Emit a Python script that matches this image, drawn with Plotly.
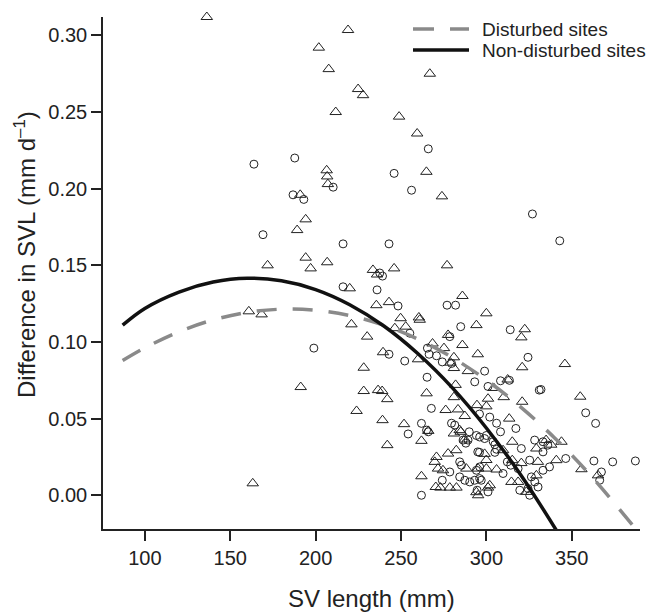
import plotly.graph_objects as go

# ---- data ----
tri_x = [136.3, 201.9, 207.7, 206.5, 206.8, 207.2, 189.2, 194.2, 191.0, 171.9,
         194.2, 197.1, 206.8, 160.9, 168.4, 191.3, 163.2, 259.5, 233.6, 236.0,
         246.0, 220.0, 235.6, 243.0, 221.0, 230.2, 246.4, 239.5, 228.2, 228.2,
         236.6, 239.0, 242.0, 224.0, 239.2, 242.0, 219.0, 266.9, 224.9, 227.8,
         211.8, 248.9, 264.9, 274.0, 277.0, 286.0, 300.0, 249.8, 260.5, 261.0,
         252.8, 294.2, 322.5, 320.5, 277.6, 268.5, 286.0, 275.2, 281.0, 279.0,
         281.0, 295.0, 260.0, 321.0, 289.2, 312.5, 282.0, 304.3, 265.0, 281.0,
         301.0, 294.5, 300.0, 310.2, 321.0, 276.2, 283.4, 251.8, 262.0, 313.4,
         287.4, 284.4, 281.0, 285.0, 287.4, 266.0, 315.2, 329.3, 341.0, 309.8,
         315.2, 320.5, 330.2, 329.3, 323.4, 314.7, 318.6, 306.0, 300.0, 270.8,
         269.8, 277.6, 271.7, 274.6, 288.3, 295.2, 262.0, 270.4, 273.1, 278.6,
         282.5, 295.2, 294.2, 301.0, 302.0, 282.4, 299.0, 300.0, 346.0, 355.0,
         344.0, 355.7, 365.4, 335.0, 338.0]
tri_y = [0.312, 0.292, 0.278, 0.212, 0.208, 0.203, 0.173, 0.180, 0.196, 0.150,
         0.155, 0.148, 0.152, 0.120, 0.118, 0.0706, 0.0078, 0.236, 0.147, 0.144,
         0.148, 0.135, 0.124, 0.126, 0.1115, 0.1035, 0.109, 0.0933, 0.0832, 0.068,
         0.0686, 0.068, 0.0627, 0.055, 0.049, 0.0327, 0.3035, 0.275, 0.265, 0.261,
         0.250, 0.247, 0.211, 0.195, 0.150, 0.130, 0.1187, 0.1155, 0.116, 0.1145,
         0.110, 0.111, 0.1083, 0.103, 0.1046, 0.099, 0.098, 0.096, 0.090, 0.0865,
         0.083, 0.092, 0.0887, 0.0835, 0.081, 0.0755, 0.072, 0.070, 0.0665, 0.064,
         0.063, 0.0588, 0.058, 0.064, 0.061, 0.0556, 0.056, 0.0464, 0.0355, 0.050,
         0.0517, 0.0425, 0.0403, 0.0414, 0.0364, 0.042, 0.0349, 0.0305, 0.0229, 0.0294,
         0.0229, 0.021, 0.0218, 0.013, 0.0022, 0.0087, 0.0087, 0.0168, 0.0174, 0.025,
         0.0218, 0.0272, 0.0174, 0.0163, 0.0174, 0.0174, 0.0124, 0.0054, 0.005, 0.005,
         0.005, 0.0, 0.002, 0.005, 0.0065, 0.0294, 0.027, 0.023, 0.0856, 0.0643,
         0.0349, 0.017, 0.013, 0.036, 0.033]

circ_x = [210.3, 186.8, 193.1, 187.8, 163.9, 169.2, 199.0, 246.0, 256.2, 216.1,
          243.0, 237.6, 239.2, 216.1, 236.0, 248.3, 243.0, 266.0, 327.0, 343.0,
          277.0, 282.0, 255.2, 285.0, 314.0, 278.6, 265.5, 266.5, 270.8, 274.2,
          279.6, 324.4, 252.2, 299.0, 265.3, 293.2, 308.3, 313.5, 301.0, 331.0,
          332.0, 267.8, 262.0, 265.0, 266.0, 254.2, 296.0, 302.0, 306.0, 308.3,
          317.3, 281.5, 279.6, 290.0, 294.2, 296.1, 299.0, 300.0, 286.4, 289.3,
          288.0, 328.3, 333.2, 336.0, 333.2, 320.5, 306.0, 305.0, 295.0, 296.0,
          325.4, 312.3, 314.3, 318.6, 333.2, 337.0, 326.4, 328.4, 330.3, 325.4,
          319.6, 309.8, 296.1, 294.2, 284.4, 285.4, 278.6, 284.4, 287.4, 290.3,
          293.2, 296.1, 274.2, 262.0, 294.6, 301.0, 297.0, 324.4, 346.5, 363.0,
          374.0, 387.3, 367.4, 366.4, 358.2, 364.0, 305.0, 304.0]
circ_y = [0.201, 0.196, 0.193, 0.220, 0.216, 0.170, 0.096, 0.210, 0.199, 0.164,
          0.164, 0.145, 0.143, 0.136, 0.134, 0.1235, 0.092, 0.226, 0.1835, 0.166,
          0.124, 0.124, 0.1057, 0.110, 0.108, 0.1035, 0.096, 0.092, 0.091, 0.087,
          0.086, 0.090, 0.0876, 0.081, 0.077, 0.074, 0.0747, 0.075, 0.071, 0.0686,
          0.069, 0.0567, 0.0469, 0.0425, 0.0414, 0.040, 0.053, 0.051, 0.047, 0.0414,
          0.0436, 0.0458, 0.047, 0.0414, 0.039, 0.038, 0.037, 0.039, 0.036, 0.036,
          0.034, 0.036, 0.0349, 0.0327, 0.0283, 0.0305, 0.030, 0.028, 0.0283, 0.028,
          0.0229, 0.0218, 0.0196, 0.0174, 0.0163, 0.0185, 0.012, 0.0087, 0.0054, 0.0,
          0.0033, 0.0142, 0.0185, 0.0163, 0.0218, 0.0196, 0.0152, 0.012, 0.0098, 0.0087,
          0.0098, 0.0109, 0.0098, 0.0, 0.0033, 0.0022, 0.0098, 0.0044, 0.024, 0.0224,
          0.0218, 0.0224, 0.0152, 0.0098, 0.0538, 0.0469, 0.033, 0.035]

# fitted curves
nd_x = [87, 100, 120, 140, 160, 180, 200, 220, 240, 260, 280, 300, 320, 341]
nd_y = [0.111, 0.1219, 0.1326, 0.1391, 0.1416, 0.1399, 0.1342, 0.1243, 0.1104,
        0.0923, 0.0702, 0.0439, 0.0136, -0.0228]
d_x = [87, 100, 120, 140, 160, 180, 200, 220, 240, 260, 280, 300, 320, 340, 360, 388]
d_y = [0.0879, 0.0962, 0.1067, 0.1144, 0.1193, 0.1214, 0.1207, 0.1172, 0.1109,
       0.1018, 0.0899, 0.0752, 0.0577, 0.0374, 0.0143, -0.0227]

x_ticks = [100, 150, 200, 250, 300, 350]
y_ticks = [0.00, 0.05, 0.10, 0.15, 0.20, 0.25, 0.30]
legend_labels = ["Disturbed sites", "Non-disturbed sites"]

FONT = "Liberation Sans, Arial, Helvetica, sans-serif"
INK = "#222222"
GREY = "#8a8a8a"

fig = go.Figure()
fig.add_trace(go.Scatter(x=tri_x, y=tri_y, mode="markers", showlegend=False, cliponaxis=False,
                         marker=dict(symbol="triangle-up-open", size=10, color=INK,
                                     line=dict(width=1, color=INK))))
fig.add_trace(go.Scatter(x=circ_x, y=circ_y, mode="markers", showlegend=False, cliponaxis=False,
                         marker=dict(symbol="circle-open", size=8, color=INK,
                                     line=dict(width=1, color=INK))))
fig.add_trace(go.Scatter(x=d_x, y=d_y, mode="lines", showlegend=False,
                         line=dict(color=GREY, width=3.5, dash="20px,16px", shape="spline")))
fig.add_trace(go.Scatter(x=nd_x, y=nd_y, mode="lines", showlegend=False,
                         line=dict(color="#111111", width=3.5, shape="spline")))

# manual legend
L, R, T, B = 103, 18, 17, 83
W, H = 658, 612
pw, ph = W - L - R, H - T - B


def px2paper(px, py):
    return (px - L) / pw, (H - B - py) / ph


for i, (lab, col, dash) in enumerate(zip(legend_labels, [GREY, "#111111"], ["21px,16px", "solid"])):
    py = 29 + 21 * i
    x0, y0 = px2paper(413, py)
    x1, _ = px2paper(469, py)
    tx, _ = px2paper(480, py)
    fig.add_shape(type="line", xref="paper", yref="paper", x0=x0, x1=x1, y0=y0, y1=y0,
                  line=dict(color=col, width=3.5, dash=dash))
    fig.add_annotation(xref="paper", yref="paper", x=tx, y=y0, xanchor="left", yanchor="middle",
                       text=lab, showarrow=False, font=dict(size=19, color=INK, family=FONT))

# axis titles
tx, ty = px2paper(371.5, 598)
fig.add_annotation(xref="paper", yref="paper", x=0.5, y=ty, xanchor="center", yanchor="middle",
                   text="SV length (mm)", showarrow=False, font=dict(size=24, color=INK, family=FONT))
ax, ay = px2paper(25, 254)
fig.add_annotation(xref="paper", yref="paper", x=ax, y=ay, xanchor="center", yanchor="middle",
                   textangle=-90, text="Difference in SVL (mm d<sup>–1</sup>)", showarrow=False,
                   font=dict(size=24, color=INK, family=FONT))

axis_common = dict(showline=True, linecolor=INK, linewidth=1.5, ticks="outside", ticklen=10,
                   tickwidth=1.5, tickcolor=INK, showgrid=False, zeroline=False,
                   tickfont=dict(size=20, color=INK, family=FONT))
fig.update_layout(
    width=W, height=H, margin=dict(l=L, r=R, t=T, b=B),
    paper_bgcolor="white", plot_bgcolor="white",
    font=dict(family=FONT, color=INK),
    xaxis=dict(range=[75.5, 390], tickvals=x_ticks, **axis_common),
    yaxis=dict(range=[-0.022, 0.312], tickvals=y_ticks, tickformat=".2f", **axis_common),
)
fig.write_html("out.html", config={"displayModeBar": False},
               post_script="document.body.style.margin='0';")
